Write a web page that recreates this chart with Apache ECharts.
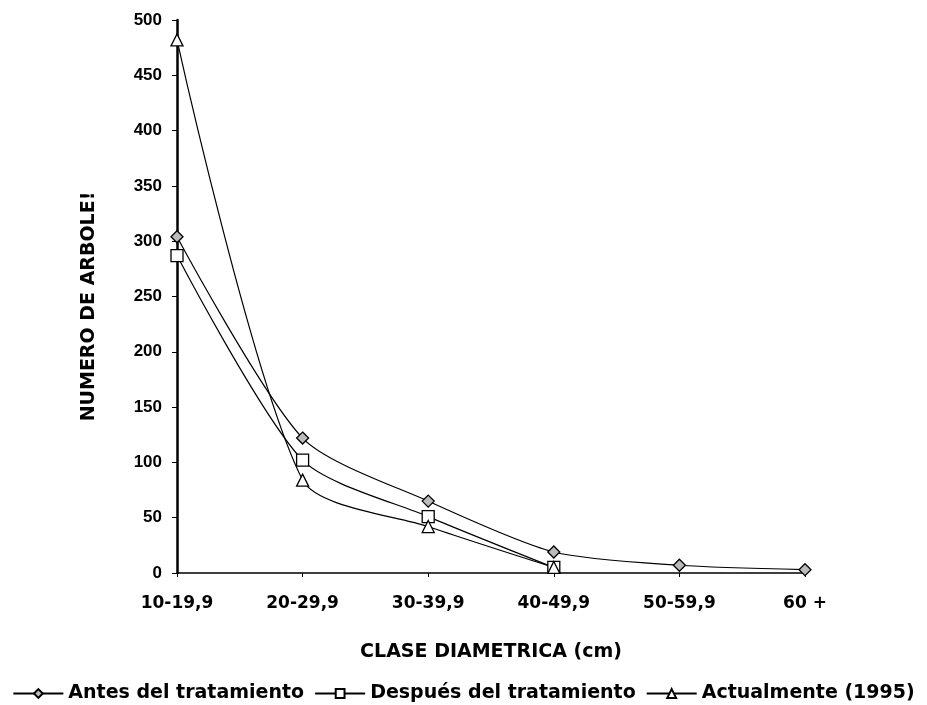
<!DOCTYPE html>
<html><head><meta charset="utf-8">
<script src="https://cdn.jsdelivr.net/npm/echarts@6/dist/echarts.min.js"></script>
<style>html,body{margin:0;padding:0;background:#fff}#c{width:927px;height:705px}</style>
</head><body><div id="c"></div>
<script>
const categories = ['10-19,9','20-29,9','30-39,9','40-49,9','50-59,9','60 +'];
const antes = [304, 122, 65, 19, 7, 3];
const despues = [287, 102, 51, 5, null, null];
const actual = [482, 84, 42, 5, null, null];
const seriesNames = ['Antes del tratamiento','Después del tratamiento','Actualmente (1995)'];

const sans = '"Liberation Sans", Arial, sans-serif';
const wide = '"DejaVu Sans", sans-serif';
const chart = echarts.init(document.getElementById('c'));
function mk(name, data, symbol, size, fill) {
  return {
    name, type: 'line', data, smooth: 0.25, symbol, symbolSize: size,
    showAllSymbol: true,
    lineStyle: { color: '#000', width: 1.2 },
    itemStyle: { color: fill, borderColor: '#000', borderWidth: 1.3 },
    connectNulls: false
  };
}
chart.setOption({
  animation: false,
  backgroundColor: '#fff',
  grid: { left: 177, right: 122, top: 20, bottom: 132 },
  xAxis: {
    type: 'category', data: categories, boundaryGap: false,
    name: 'CLASE DIAMETRICA (cm)', nameLocation: 'middle', nameGap: 70,
    nameTextStyle: { color: '#000', fontFamily: wide, fontSize: 19, fontWeight: 'bold' },
    axisLine: { lineStyle: { color: '#000', width: 1.5 } },
    axisTick: { show: true, alignWithLabel: true, length: 4, lineStyle: { color: '#000' } },
    axisLabel: { color: '#000', fontFamily: wide, fontSize: 17, fontWeight: 'bold', margin: 22 },
    splitLine: { show: false }
  },
  yAxis: {
    type: 'value', min: 0, max: 500, interval: 50,
    name: 'NUMERO DE ARBOLE!', nameLocation: 'middle', nameGap: 78, nameRotate: 90,
    nameTextStyle: { color: '#000', fontFamily: wide, fontSize: 19, fontWeight: 'bold', padding: [0, 20, 0, 0] },
    axisLine: { show: true, lineStyle: { color: '#000', width: 2.5 } },
    axisTick: { show: true, length: 5, lineStyle: { color: '#000' } },
    axisLabel: { color: '#000', fontFamily: sans, fontSize: 17, fontWeight: 'bold', margin: 15 },
    splitLine: { show: false }
  },
  legend: {
    top: 679, left: 'center', itemGap: 10, itemWidth: 50, itemHeight: 11,
    textStyle: { color: '#000', fontFamily: wide, fontSize: 19, fontWeight: 'bold' },
    data: seriesNames
  },
  series: [
    mk(seriesNames[0], antes, 'diamond', 12, '#bbb'),
    mk(seriesNames[1], despues, 'rect', 12, '#fff'),
    mk(seriesNames[2], actual, 'triangle', 12, '#fff')
  ]
});
</script></body></html>
